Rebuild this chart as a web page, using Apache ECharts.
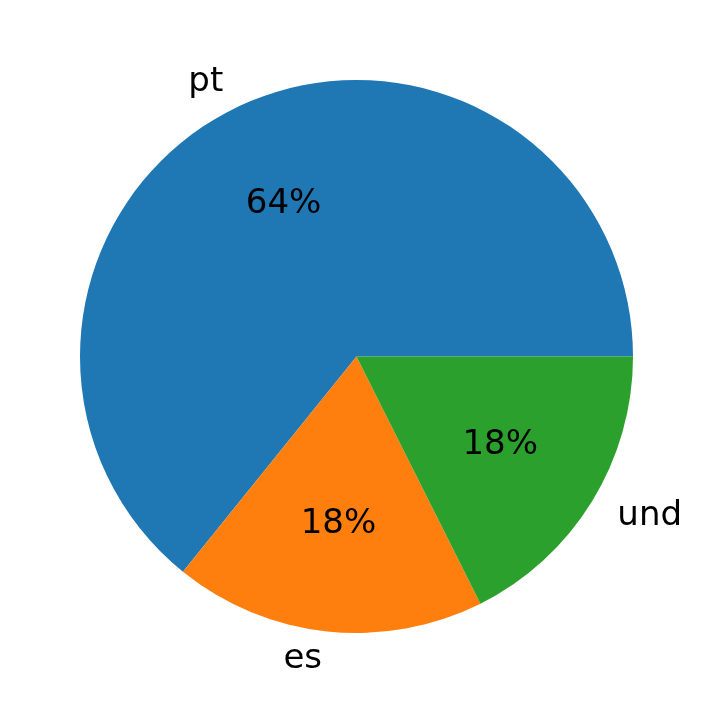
<!DOCTYPE html>
<html>
<head>
<meta charset="utf-8">
<script src="https://cdn.jsdelivr.net/npm/echarts@6/dist/echarts.min.js"></script>
<style>html,body{margin:0;padding:0;background:#fff}#c{width:712px;height:713px}</style>
</head>
<body>
<div id="c"></div>
<script>
const categories = ['pt', 'es', 'und'];
const values = [64.2, 18.2, 17.6];
const colors = ['#1f77b4', '#ff7f0e', '#2ca02c'];

const R = 276.5;
const CX = 356.5, CY = 356.5;
const FONT = 'DejaVu Sans';
const FS = 34;

const chart = echarts.init(document.getElementById('c'), null, {renderer: 'canvas'});
const mainData = categories.map((c, i) => ({name: c, value: values[i], itemStyle: {color: colors[i]}}));
const pctData = categories.map((c, i) => ({name: c, value: values[i]}));

chart.setOption({
  animation: false,
  series: [
    {
      type: 'pie',
      center: [CX, CY],
      radius: [0, R],
      startAngle: 0,
      clockwise: false,
      silent: true,
      avoidLabelOverlap: false,
      itemStyle: {borderWidth: 0},
      label: {
        show: true,
        position: 'outside',
        formatter: '{b}',
        fontFamily: FONT,
        fontSize: FS,
        color: '#000',
        padding: [5, 0, 0, 0]
      },
      labelLine: {show: false, length: R * 0.1, length2: -3},
      data: mainData
    },
    {
      type: 'pie',
      center: [CX, CY],
      radius: [0, R * 1.2],
      startAngle: 0,
      clockwise: false,
      silent: true,
      z: 5,
      itemStyle: {color: 'rgba(0,0,0,0)', borderWidth: 0},
      label: {
        show: true,
        position: 'inside',
        formatter: p => Math.round(p.percent) + '%',
        fontFamily: FONT,
        fontSize: FS,
        color: '#000',
        padding: [5, 0, 0, 0]
      },
      labelLine: {show: false},
      data: pctData
    }
  ]
});
</script>
</body>
</html>
